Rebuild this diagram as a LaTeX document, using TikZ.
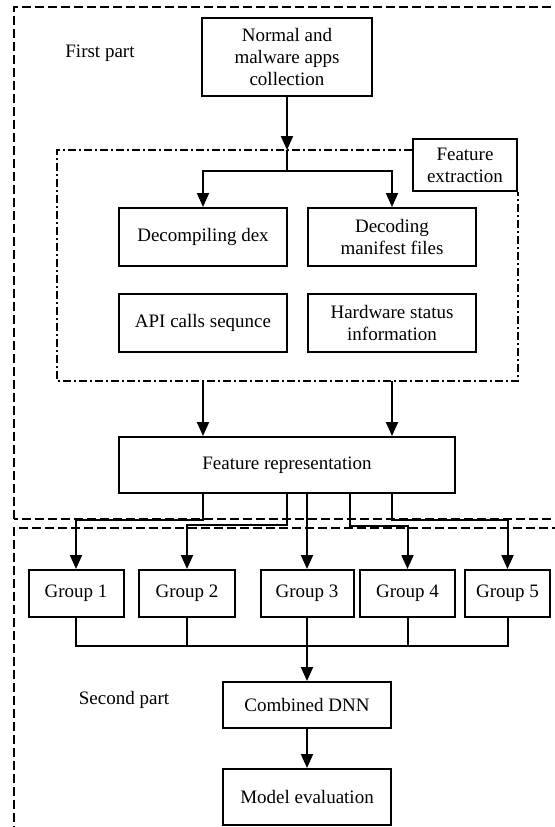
\documentclass[tikz,border=0pt]{standalone}
\usepackage{fontspec}
\setmainfont{Liberation Serif}
\usepackage{tikz}
\usetikzlibrary{positioning,calc,arrows.meta}

\begin{document}
\begin{tikzpicture}[x=0.5pt, y=-0.5pt,
    font=\fontsize{9.5pt}{11pt}\selectfont,
    box/.style={draw, line width=1pt, align=center, inner sep=0pt},
    arr/.style={-{Triangle[width=6pt,length=7pt]}, line width=1pt},
    link/.style={line width=1pt},
    partline/.style={line width=1.1pt, dash pattern=on 4.5pt off 2pt},
    stageline/.style={line width=0.9pt, dash pattern=on 4pt off 1.5pt on 1pt off 1.5pt}]
    \useasboundingbox (0,0) rectangle (555,827);

    % Cadres des deux parties
    \draw[partline] (14,519) -- (14,7) -- (557,7) -- (557,519) -- cycle;
    \draw[partline] (14,835) -- (14,528) -- (557,528) -- (557,835);
    \node (first) at (100,53) {First part};
    \node (second) at (124,700) {Second part};

    % Collecte
    \node[box, minimum width=85pt, minimum height=39pt] (top) at (287,57)
        {Normal and\\malware apps\\collection};

    % Extraction des caracteristiques
    \node[box, minimum width=52pt, minimum height=26pt] (fext) at (465,165)
        {Feature\\extraction};
    \coordinate (fin) at (287,150);
    \coordinate (fsplit) at (287,171);
    \coordinate (fb) at (57,381);
    \draw[stageline] (fext.west |- fin) -- (57,150) -- (fb)
        -- (fb -| fext.east) -- (fext.south east);

    \node[box, minimum width=84pt, minimum height=29pt] (dex) at (203,237) {Decompiling dex};
    \node[box, minimum width=84pt, minimum height=29pt] (man) at (392,237) {Decoding\\manifest files};
    \node[box, minimum width=84pt, minimum height=29pt] (api) at (203,323) {API calls sequnce};
    \node[box, minimum width=84pt, minimum height=29pt] (hw) at (392,323) {Hardware status\\information};

    \draw[arr] (top) -- (fin);
    \draw[link] (fin) -- (fsplit);
    \draw[arr] (fsplit) -| (dex);
    \draw[arr] (fsplit) -| (man);

    % Representation
    \node[box, minimum width=168pt, minimum height=28pt] (rep) at (287,465) {Feature representation};
    \draw[arr] (fb -| api) -- (rep.north -| api);
    \draw[arr] (fb -| hw) -- (rep.north -| hw);

    % Groupes
    \node[box, minimum width=47.5pt, minimum height=23.5pt] (g1) at (76,593.5) {Group 1};
    \node[box, minimum width=48pt, minimum height=23.5pt] (g2) at (187,593.5) {Group 2};
    \node[box, minimum width=46.5pt, minimum height=23.5pt] (g3) at (307,593.5) {Group 3};
    \node[box, minimum width=47.5pt, minimum height=23.5pt] (g4) at (407.5,593.5) {Group 4};
    \node[box, minimum width=42.5pt, minimum height=23.5pt] (g5) at (507.5,593.5) {Group 5};

    \draw[arr] (rep.south -| dex) -- ++(0,26) -| (g1);
    \draw[arr] (rep.south -| top) -- ++(0,31) -| (g2);
    \draw[arr] (rep.south -| g3) -- (g3);
    \draw[arr] ([xshift=31.5pt]rep.south) -- ++(0,32) -| (g4);
    \draw[arr] (rep.south -| man) -- ++(0,26) -| (g5);

    % Combinaison et evaluation
    \node[box, minimum width=84pt, minimum height=23pt] (dnn) at (307,705) {Combined DNN};
    \node[box, minimum width=84pt, minimum height=28pt] (eval) at (307,797) {Model evaluation};

    \coordinate (bus) at (307,646);
    \draw[link] (g1.south) |- (bus) -| (g5.south);
    \foreach \g in {g2,g4}
        \draw[link] (\g.south) -- (\g.south |- bus);
    \draw[arr] (g3.south) -- (dnn);
    \draw[arr] (dnn) -- (eval);
\end{tikzpicture}
\end{document}
